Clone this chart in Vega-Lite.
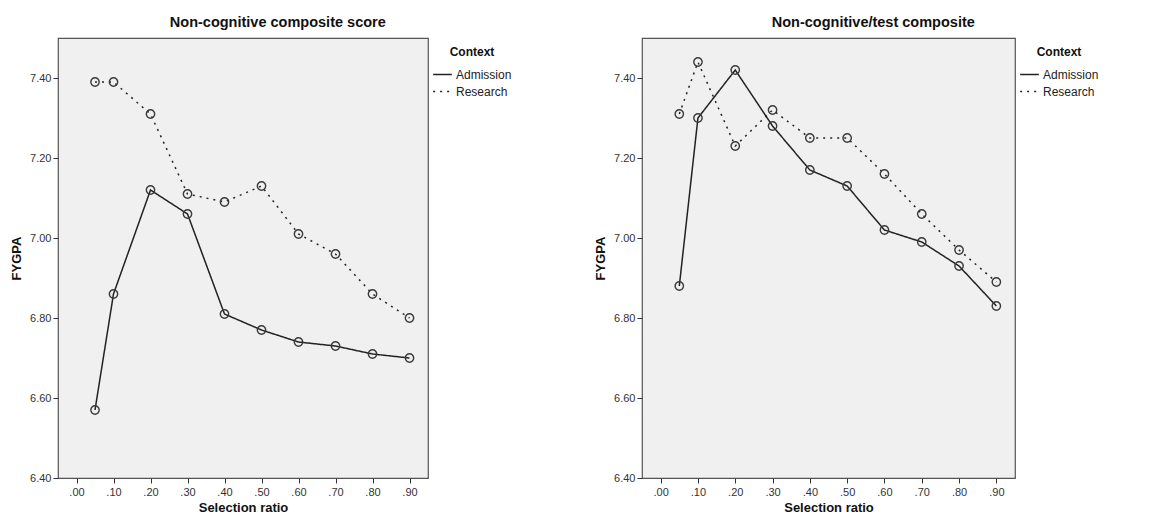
{
  "$schema": "https://vega.github.io/schema/vega-lite/v6.json",
  "padding": {"left": 9, "top": 13, "right": 5, "bottom": 5},
  "background": "white",
  "data": {"name": "d"},
  "datasets": {
    "d": [
      {"panel": "A", "ratio": 0.05, "context": "Admission", "fygpa": 6.57},
      {"panel": "A", "ratio": 0.10, "context": "Admission", "fygpa": 6.86},
      {"panel": "A", "ratio": 0.20, "context": "Admission", "fygpa": 7.12},
      {"panel": "A", "ratio": 0.30, "context": "Admission", "fygpa": 7.06},
      {"panel": "A", "ratio": 0.40, "context": "Admission", "fygpa": 6.81},
      {"panel": "A", "ratio": 0.50, "context": "Admission", "fygpa": 6.77},
      {"panel": "A", "ratio": 0.60, "context": "Admission", "fygpa": 6.74},
      {"panel": "A", "ratio": 0.70, "context": "Admission", "fygpa": 6.73},
      {"panel": "A", "ratio": 0.80, "context": "Admission", "fygpa": 6.71},
      {"panel": "A", "ratio": 0.90, "context": "Admission", "fygpa": 6.70},
      {"panel": "A", "ratio": 0.05, "context": "Research", "fygpa": 7.39},
      {"panel": "A", "ratio": 0.10, "context": "Research", "fygpa": 7.39},
      {"panel": "A", "ratio": 0.20, "context": "Research", "fygpa": 7.31},
      {"panel": "A", "ratio": 0.30, "context": "Research", "fygpa": 7.11},
      {"panel": "A", "ratio": 0.40, "context": "Research", "fygpa": 7.09},
      {"panel": "A", "ratio": 0.50, "context": "Research", "fygpa": 7.13},
      {"panel": "A", "ratio": 0.60, "context": "Research", "fygpa": 7.01},
      {"panel": "A", "ratio": 0.70, "context": "Research", "fygpa": 6.96},
      {"panel": "A", "ratio": 0.80, "context": "Research", "fygpa": 6.86},
      {"panel": "A", "ratio": 0.90, "context": "Research", "fygpa": 6.80},
      {"panel": "B", "ratio": 0.05, "context": "Admission", "fygpa": 6.88},
      {"panel": "B", "ratio": 0.10, "context": "Admission", "fygpa": 7.30},
      {"panel": "B", "ratio": 0.20, "context": "Admission", "fygpa": 7.42},
      {"panel": "B", "ratio": 0.30, "context": "Admission", "fygpa": 7.28},
      {"panel": "B", "ratio": 0.40, "context": "Admission", "fygpa": 7.17},
      {"panel": "B", "ratio": 0.50, "context": "Admission", "fygpa": 7.13},
      {"panel": "B", "ratio": 0.60, "context": "Admission", "fygpa": 7.02},
      {"panel": "B", "ratio": 0.70, "context": "Admission", "fygpa": 6.99},
      {"panel": "B", "ratio": 0.80, "context": "Admission", "fygpa": 6.93},
      {"panel": "B", "ratio": 0.90, "context": "Admission", "fygpa": 6.83},
      {"panel": "B", "ratio": 0.05, "context": "Research", "fygpa": 7.31},
      {"panel": "B", "ratio": 0.10, "context": "Research", "fygpa": 7.44},
      {"panel": "B", "ratio": 0.20, "context": "Research", "fygpa": 7.23},
      {"panel": "B", "ratio": 0.30, "context": "Research", "fygpa": 7.32},
      {"panel": "B", "ratio": 0.40, "context": "Research", "fygpa": 7.25},
      {"panel": "B", "ratio": 0.50, "context": "Research", "fygpa": 7.25},
      {"panel": "B", "ratio": 0.60, "context": "Research", "fygpa": 7.16},
      {"panel": "B", "ratio": 0.70, "context": "Research", "fygpa": 7.06},
      {"panel": "B", "ratio": 0.80, "context": "Research", "fygpa": 6.97},
      {"panel": "B", "ratio": 0.90, "context": "Research", "fygpa": 6.89}
    ]
  },
  "config": {
    "font": "Liberation Sans",
    "view": {"fill": "#f0f0f0", "stroke": "#555555", "strokeWidth": 1.2},
    "axis": {
      "grid": false,
      "domain": false,
      "tickColor": "#333333",
      "tickSize": 5,
      "labelColor": "#333333",
      "labelFontSize": 11,
      "titleFontSize": 13,
      "titleFontWeight": "bold",
      "titleColor": "#111111"
    },
    "title": {"fontSize": 14.5, "fontWeight": "bold", "color": "#111111", "frame": "bounds", "anchor": "middle", "offset": 8},
    "legend": {
      "titleFontSize": 12, "titleFontWeight": "bold", "titleColor": "#111111",
      "titleAnchor": "middle", "titlePadding": 5,
      "labelFontSize": 12, "labelColor": "#222222", "labelOffset": 3,
      "symbolType": "stroke", "symbolSize": 350, "symbolStrokeWidth": 1.5,
      "symbolStrokeColor": "#222222", "offset": -5, "rowPadding": 0, "padding": 9
    }
  },
  "spacing": 71,
  "hconcat": [
    {
      "title": {"text": "Non-cognitive composite score", "dx": 12},
      "width": 370, "height": 440,
      "transform": [{"filter": "datum.panel === 'A'"}],
      "encoding": {
        "x": {"field": "ratio", "type": "quantitative", "title": "Selection ratio",
              "scale": {"domain": [-0.05, 0.95], "nice": false, "zero": false},
              "axis": {"values": [0, 0.1, 0.2, 0.3, 0.4, 0.5, 0.6, 0.7, 0.8, 0.9], "labelExpr": "substring(format(datum.value, '.2f'), 1)", "titlePadding": 4, "labelPadding": 3}},
        "y": {"field": "fygpa", "type": "quantitative", "title": "FYGPA",
              "scale": {"domain": [6.4, 7.5], "nice": false, "zero": false},
              "axis": {"values": [6.4, 6.6, 6.8, 7.0, 7.2, 7.4], "format": ".2f", "titlePadding": 6}}
      },
      "layer": [
        {
          "mark": {"type": "line", "color": "#222222", "strokeWidth": 1.5},
          "encoding": {
            "detail": {"field": "context"},
            "strokeDash": {"field": "context", "type": "nominal", "title": "Context",
              "scale": {"domain": ["Admission", "Research"], "range": [[1, 0], [2, 5]]}}
          }
        },
        {
          "mark": {"type": "point", "shape": "circle", "filled": false, "size": 70, "stroke": "#3a3a3a", "strokeWidth": 1.4, "opacity": 1}
        }
      ]
    },
    {
      "title": {"text": "Non-cognitive/test composite", "dx": 22},
      "width": 373, "height": 440,
      "transform": [{"filter": "datum.panel === 'B'"}],
      "encoding": {
        "x": {"field": "ratio", "type": "quantitative", "title": "Selection ratio",
              "scale": {"domain": [-0.05, 0.95], "nice": false, "zero": false},
              "axis": {"values": [0, 0.1, 0.2, 0.3, 0.4, 0.5, 0.6, 0.7, 0.8, 0.9], "labelExpr": "substring(format(datum.value, '.2f'), 1)", "titlePadding": 4, "labelPadding": 3}},
        "y": {"field": "fygpa", "type": "quantitative", "title": "FYGPA",
              "scale": {"domain": [6.4, 7.5], "nice": false, "zero": false},
              "axis": {"values": [6.4, 6.6, 6.8, 7.0, 7.2, 7.4], "format": ".2f", "titlePadding": 6}}
      },
      "layer": [
        {
          "mark": {"type": "line", "color": "#222222", "strokeWidth": 1.5},
          "encoding": {
            "detail": {"field": "context"},
            "strokeDash": {"field": "context", "type": "nominal", "title": "Context",
              "scale": {"domain": ["Admission", "Research"], "range": [[1, 0], [2, 5]]}}
          }
        },
        {
          "mark": {"type": "point", "shape": "circle", "filled": false, "size": 70, "stroke": "#3a3a3a", "strokeWidth": 1.4, "opacity": 1}
        }
      ]
    }
  ],
  "resolve": {"scale": {"strokeDash": "independent"}, "legend": {"strokeDash": "independent"}}
}
